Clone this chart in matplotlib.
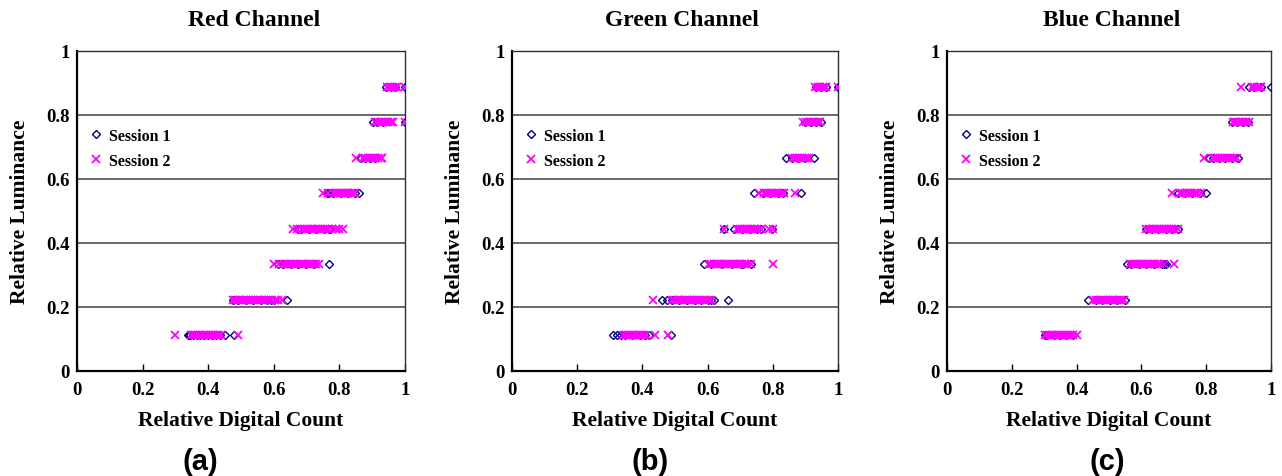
import matplotlib
matplotlib.use('Agg')
import matplotlib.pyplot as plt

# relative luminance levels (8 steps of 1/9)
levels = [0.111, 0.222, 0.333, 0.444, 0.556, 0.667, 0.778, 0.889]

red_s1 = [
    [86, 87, 88, 90, 93, 96, 99, 102, 105, 108, 111, 115, 122],
    [121, 125, 131, 137, 143, 148, 151, 153, 163],
    [156, 160, 166, 172, 178, 184, 196],
    [172, 174, 180, 186, 192, 196, 197],
    [194, 196, 199, 205, 211, 216, 219],
    [221, 224, 228, 232],
    [230, 233, 238, 255],
    [240, 244, 247, 255],
]
red_s2 = [
    [76, 89, 90, 92, 94, 96, 98, 100, 102, 104, 106, 108, 110, 112, 125],
    [121, 123, 125, 127, 129, 131, 133, 135, 137, 139, 141, 143, 145, 147, 149, 151, 154, 156, 159],
    [153, 157, 160, 162, 164, 166, 168, 170, 172, 174, 176, 178, 180, 182, 184, 186, 188],
    [168, 171, 175, 177, 179, 181, 183, 185, 187, 189, 191, 193, 195, 198, 201, 204, 207],
    [191, 195, 199, 201, 203, 205, 207, 209, 211, 213, 215, 216],
    [217, 222, 224, 226, 228, 230, 232, 234, 236, 237],
    [232, 234, 236, 238, 240, 242, 244, 246, 255],
    [241, 243, 245, 247, 249, 255],
]

green_s1 = [
    [79, 82, 85, 88, 94, 100, 104, 107, 124],
    [117, 121, 125, 131, 137, 143, 148, 153, 156, 158, 169],
    [150, 156, 164, 172, 179, 181, 187],
    [166, 174, 180, 186, 192, 195, 203],
    [189, 196, 202, 208, 212, 226],
    [214, 219, 224, 229, 236],
    [229, 234, 238, 242],
    [238, 242, 246, 255],
]
green_s2 = [
    [87, 89, 91, 93, 95, 97, 99, 101, 103, 105, 112, 122],
    [110, 125, 127, 129, 131, 133, 135, 137, 139, 141, 143, 145, 147, 149, 151, 154, 156],
    [154, 156, 158, 160, 162, 164, 166, 168, 170, 172, 174, 176, 178, 180, 182, 184, 187, 204],
    [166, 176, 178, 180, 182, 184, 186, 188, 190, 192, 195, 201, 204],
    [193, 197, 199, 201, 203, 205, 207, 209, 211, 213, 221],
    [219, 221, 223, 225, 227, 229, 231, 232],
    [228, 230, 232, 234, 236, 238, 240, 241],
    [237, 239, 241, 243, 245, 246, 255],
]

blue_s1 = [
    [77, 79, 84, 89, 94, 99],
    [111, 117, 122, 128, 134, 140],
    [142, 145, 151, 157, 163, 169, 171, 172],
    [157, 161, 166, 172, 177, 182],
    [182, 187, 193, 199, 204],
    [206, 209, 214, 219, 224, 229],
    [224, 228, 233, 237],
    [238, 242, 247, 255],
]
blue_s2 = [
    [77, 79, 81, 83, 85, 87, 89, 91, 93, 95, 97, 99, 102],
    [115, 117, 119, 121, 123, 125, 127, 129, 131, 133, 135, 137, 139],
    [144, 146, 148, 150, 152, 154, 156, 158, 160, 162, 164, 166, 168, 171, 179],
    [157, 159, 161, 163, 165, 167, 169, 171, 173, 175, 177, 179, 182],
    [177, 183, 185, 187, 189, 191, 193, 195, 197, 200],
    [202, 209, 211, 213, 215, 217, 219, 221, 223, 225, 228],
    [225, 227, 229, 231, 233, 235, 238],
    [231, 240, 242, 244, 246, 247],
]

titles = ['Red Channel', 'Green Channel', 'Blue Channel']
panel_tags = ['(a)', '(b)', '(c)']
sessions = [(red_s1, red_s2), (green_s1, green_s2), (blue_s1, blue_s2)]

serif = 'Liberation Serif'
W, H = 1282, 477
fig = plt.figure(figsize=(W / 100, H / 100), dpi=100)

# axes boxes in pixels: left, right
boxes = [(77, 405), (512, 838), (947, 1271)]
top_px, bot_px = 52, 372
title_x = [254, 682, 1112]
tag_x = [200, 650, 1107]

for k in range(3):
    l, r = boxes[k]
    ax = fig.add_axes([l / W, 1 - bot_px / H, (r - l) / W, (bot_px - top_px) / H])
    s1, s2 = sessions[k]
    x1, y1, x2, y2 = [], [], [], []
    for i, lum in enumerate(levels):
        for dc in s1[i]:
            x1.append(dc / 255)
            y1.append(lum)
        for dc in s2[i]:
            x2.append(dc / 255)
            y2.append(lum)

    for yy in [0.2, 0.4, 0.6, 0.8]:
        ax.axhline(yy, color='#404040', lw=1.1, zorder=1)

    ax.plot(x1, y1, linestyle='none', marker='D', markersize=4.0,
            markerfacecolor='none', markeredgecolor='#000080',
            markeredgewidth=1.0, label='Session 1', zorder=3)
    ax.plot(x2, y2, linestyle='none', marker='x', markersize=5.5,
            color='#ff00ff', markeredgewidth=1.3, label='Session 2', zorder=4)

    ax.set_xlim(0, 1)
    ax.set_ylim(0, 1)
    ax.set_xticks([0, 0.2, 0.4, 0.6, 0.8, 1])
    ax.set_xticklabels(['0', '0.2', '0.4', '0.6', '0.8', '1'])
    ax.set_yticks([0, 0.2, 0.4, 0.6, 0.8, 1])
    ax.set_yticklabels(['0', '0.2', '0.4', '0.6', '0.8', '1'])
    ax.tick_params(axis='x', direction='in', length=5, width=1, pad=7, top=False)
    ax.tick_params(axis='y', length=0, pad=5)
    for lab in ax.get_xticklabels() + ax.get_yticklabels():
        lab.set_fontfamily(serif)
        lab.set_fontweight('bold')
        lab.set_fontsize(13.5)

    ax.spines['left'].set_linewidth(1.6)
    ax.spines['bottom'].set_linewidth(1.6)
    ax.spines['top'].set_linewidth(1.0)
    ax.spines['right'].set_linewidth(1.0)
    ax.spines['top'].set_color('#303030')
    ax.spines['right'].set_color('#303030')

    ax.set_xlabel('Relative Digital Count', fontfamily=serif, fontweight='bold',
                  fontsize=15.5, labelpad=9)
    ax.set_ylabel('Relative Luminance', fontfamily=serif, fontweight='bold',
                  fontsize=15.5, labelpad=12)

    leg = ax.legend(loc='upper left', bbox_to_anchor=(0.0, 0.8), frameon=False,
                    handlelength=0.8, handletextpad=0.4, labelspacing=0.55,
                    borderaxespad=0.4, prop={'family': serif, 'weight': 'bold', 'size': 11.5})

    fig.text(title_x[k] / W, 1 - 21 / H, titles[k], ha='center', va='center',
             fontfamily=serif, fontweight='bold', fontsize=17)
    fig.text(tag_x[k] / W, 1 - 462 / H, panel_tags[k], ha='center', va='center',
             fontfamily='Liberation Sans', fontweight='bold', fontsize=21)

fig.savefig('out.png', dpi=100)
